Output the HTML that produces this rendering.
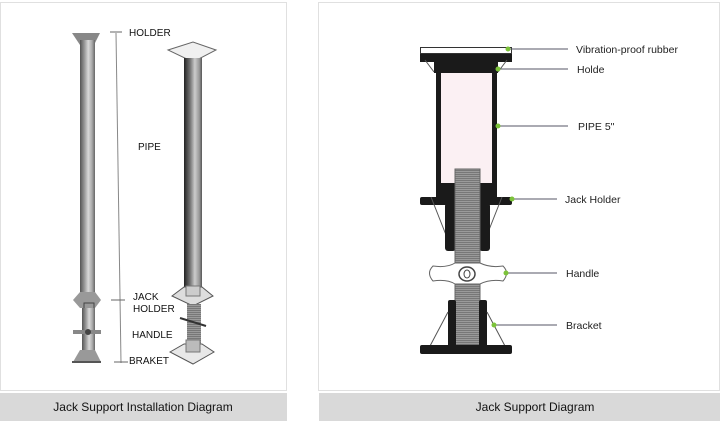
<!DOCTYPE html>
<html><head><meta charset="utf-8"><style>
html,body{margin:0;padding:0;background:#fff;}
body{width:720px;height:422px;overflow:hidden;position:relative;font-family:"Liberation Sans",sans-serif;}
</style></head><body>
<svg width="720" height="422" viewBox="0 0 720 422" xmlns="http://www.w3.org/2000/svg" style="position:absolute;left:0;top:0">
<defs>
<linearGradient id="cyl" x1="0" x2="1" y1="0" y2="0">
<stop offset="0" stop-color="#555"/><stop offset="0.3" stop-color="#999"/><stop offset="0.55" stop-color="#d8d8d8"/><stop offset="0.8" stop-color="#aaa"/><stop offset="1" stop-color="#666"/>
</linearGradient>
<linearGradient id="cyl2" x1="0" x2="1" y1="0" y2="0">
<stop offset="0" stop-color="#222"/><stop offset="0.35" stop-color="#777"/><stop offset="0.6" stop-color="#ccc"/><stop offset="0.85" stop-color="#999"/><stop offset="1" stop-color="#555"/>
</linearGradient>
<pattern id="thr" width="4" height="2" patternUnits="userSpaceOnUse"><rect width="4" height="2" fill="#9a9a9a"/><rect width="4" height="1" fill="#777"/></pattern>
</defs>
<!-- panels -->
<rect x="0.5" y="2.5" width="286" height="388" fill="#fff" stroke="#e0e0e0"/>
<rect x="0" y="393" width="287" height="28" fill="#d9d9d9"/>
<text x="143" y="411" font-size="12" text-anchor="middle" fill="#111">Jack Support Installation Diagram</text>
<rect x="318.5" y="2.5" width="401" height="388" fill="#fff" stroke="#e0e0e0"/>
<rect x="319" y="393" width="401" height="28" fill="#d9d9d9"/>
<text x="535" y="411" font-size="12" text-anchor="middle" fill="#111">Jack Support Diagram</text>

<!-- left pole -->
<path d="M72 33 L100 33 L94 45 L80 45 Z" fill="#888"/>
<rect x="80" y="40" width="15" height="255" fill="url(#cyl)"/>
<path d="M73 300 L80 292 L95 292 L101 300 L95 308 L80 308 Z" fill="#999"/>
<rect x="84" y="303" width="10" height="12" fill="none" stroke="#444"/>
<rect x="82" y="308" width="13" height="55" fill="url(#cyl)"/>
<path d="M73 334 L101 334 L101 330 L73 330 Z" fill="#888"/>
<circle cx="88" cy="332" r="3" fill="#444"/>
<path d="M73 362 L80 350 L95 350 L101 362 Z" fill="#999"/>
<rect x="72" y="361" width="29" height="2" fill="#555"/>
<!-- measure line -->
<line x1="116" y1="33" x2="121" y2="363" stroke="#888" stroke-width="1"/>
<line x1="110" y1="32" x2="122" y2="32" stroke="#666"/>
<line x1="111" y1="300" x2="125" y2="300" stroke="#666"/>
<line x1="114" y1="362" x2="128" y2="362" stroke="#666"/>
<g font-size="10" fill="#111">
<text x="129" y="36">HOLDER</text>
<text x="138" y="150">PIPE</text>
<text x="133" y="300">JACK</text>
<text x="133" y="312">HOLDER</text>
<text x="132" y="338">HANDLE</text>
<text x="129" y="364">BRAKET</text>
</g>
<!-- right pole -->
<path d="M168 50 L193 42 L216 50 L193 62 Z" fill="#f0f0f0" stroke="#666" stroke-width="1"/>
<rect x="184" y="58" width="18" height="230" fill="url(#cyl2)"/>
<path d="M172 296 L184 287 L202 287 L213 296 L193 306 Z" fill="#ddd" stroke="#555"/>
<rect x="186" y="286" width="14" height="10" fill="#ccc" stroke="#777"/>
<rect x="187" y="304" width="14" height="44" fill="url(#thr)"/>
<line x1="180" y1="318" x2="206" y2="326" stroke="#333" stroke-width="2"/>
<path d="M170 352 L184 344 L202 344 L214 352 L193 364 Z" fill="#e8e8e8" stroke="#555"/>
<rect x="186" y="340" width="14" height="12" fill="#bbb" stroke="#777"/>

<!-- right diagram -->
<rect x="420.5" y="47.5" width="91" height="6" fill="#fff" stroke="#333"/>
<rect x="420" y="54" width="92" height="8" fill="#1a1a1a"/>
<rect x="434" y="60" width="64" height="13" fill="#1a1a1a"/>
<line x1="425" y1="60" x2="434" y2="72" stroke="#555"/>
<line x1="507" y1="60" x2="498" y2="72" stroke="#555"/>
<rect x="441" y="73" width="51" height="110" fill="#fbf0f3"/>
<rect x="436" y="73" width="5" height="112" fill="#1a1a1a"/>
<rect x="492" y="73" width="5" height="112" fill="#1a1a1a"/>
<rect x="436" y="183" width="61" height="16" fill="#1a1a1a"/>
<rect x="420" y="197" width="92" height="8" rx="2" fill="#1a1a1a"/>
<line x1="431" y1="197" x2="448" y2="240" stroke="#555"/>
<line x1="502" y1="197" x2="485" y2="240" stroke="#555"/>
<rect x="445" y="203" width="11" height="48" rx="3" fill="#1a1a1a"/>
<rect x="479" y="203" width="11" height="48" rx="3" fill="#1a1a1a"/>
<rect x="455" y="169" width="25" height="176" fill="url(#thr)"/>
<rect x="455" y="169" width="25" height="176" fill="none" stroke="#666"/>
<path d="M433 266 Q447 268 455 263 L480 263 Q490 268 503 266 Q510 273 503 281 Q490 279 480 284 L455 284 Q447 279 433 281 Q426 273 433 266 Z" fill="#fff" stroke="#666"/>
<ellipse cx="467" cy="274" rx="8" ry="7" fill="#fff" stroke="#444" stroke-width="1.5"/>
<ellipse cx="467" cy="274" rx="3" ry="4" fill="none" stroke="#444"/>
<rect x="448" y="300" width="8" height="50" rx="2" fill="#1a1a1a"/>
<rect x="479" y="300" width="8" height="50" rx="2" fill="#1a1a1a"/>
<line x1="448" y1="312" x2="430" y2="346" stroke="#555"/>
<line x1="487" y1="312" x2="505" y2="346" stroke="#555"/>
<rect x="420" y="345" width="92" height="9" rx="2" fill="#1a1a1a"/>

<g stroke="#556" stroke-width="1">
<line x1="508" y1="49" x2="568" y2="49"/>
<line x1="498" y1="69" x2="568" y2="69"/>
<line x1="498" y1="126" x2="568" y2="126"/>
<line x1="512" y1="199" x2="557" y2="199"/>
<line x1="506" y1="273" x2="557" y2="273"/>
<line x1="494" y1="325" x2="557" y2="325"/>
</g>
<g fill="#7cc33a">
<circle cx="508" cy="49" r="2.5"/><circle cx="498" cy="69" r="2.5"/><circle cx="498" cy="126" r="2.5"/>
<circle cx="512" cy="199" r="2.5"/><circle cx="506" cy="273" r="2.5"/><circle cx="494" cy="325" r="2.5"/>
</g>
<g font-size="10.5" fill="#222">
<text x="576" y="53">Vibration-proof rubber</text>
<text x="577" y="73">Holde</text>
<text x="578" y="130">PIPE 5"</text>
<text x="565" y="203">Jack Holder</text>
<text x="566" y="277">Handle</text>
<text x="566" y="329">Bracket</text>
</g>
</svg>
</body></html>
